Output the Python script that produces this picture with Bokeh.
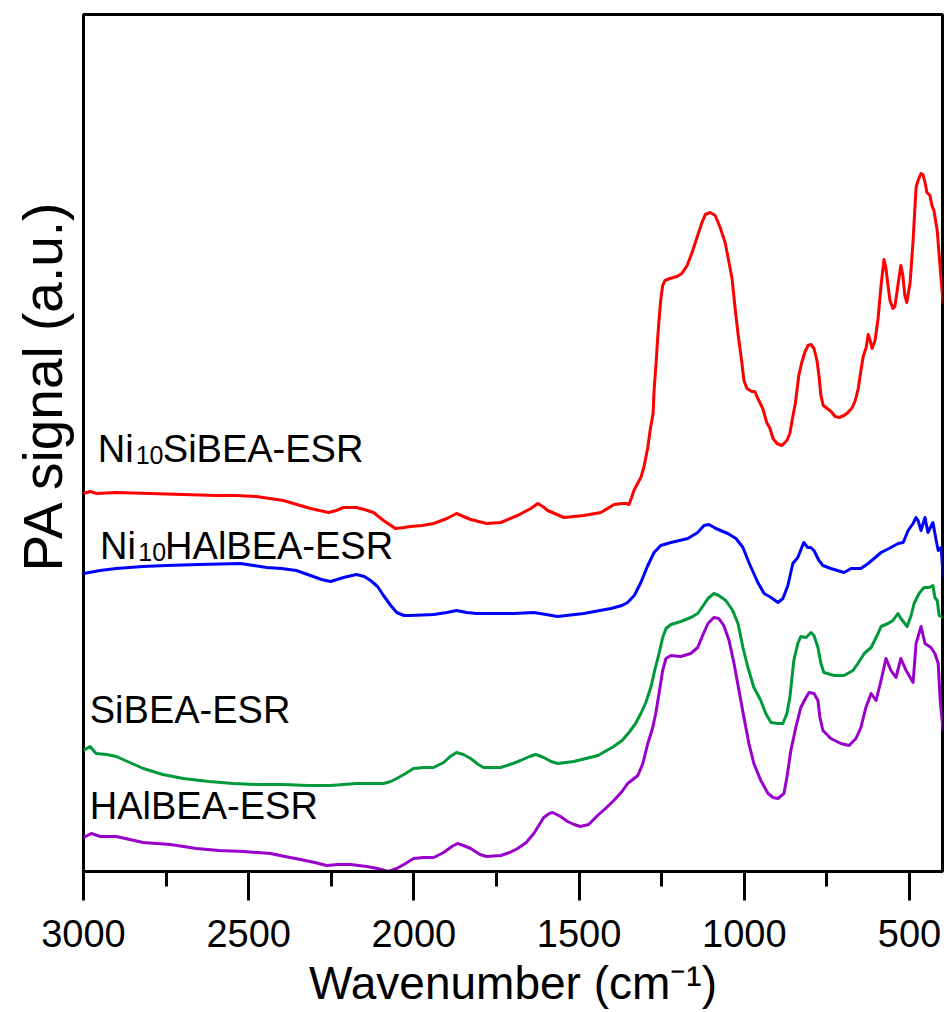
from bokeh.plotting import figure
from bokeh.models import Range1d, SingleIntervalTicker, Label, Title
from bokeh.embed import file_html
from bokeh.resources import INLINE

# ---------------- data: (wavenumber cm-1, PA signal a.u.) ----------------
red_points = [
    (3000, 378), (2980, 380), (2960, 378), (2901, 379), (2800, 378), (2698, 377), (2600, 376),
    (2537, 376), (2477, 375), (2395, 371), (2313, 363), (2258, 359), (2235, 361), (2213, 364),
    (2174, 364), (2150, 362), (2122, 359), (2092, 351), (2056, 343), (2030, 344), (2010, 345),
    (1975, 346), (1940, 348), (1900, 353), (1871, 358), (1850, 355), (1828, 352), (1780, 348),
    (1737, 349), (1686, 356), (1646, 363), (1625, 368), (1610, 365), (1595, 361), (1546, 354),
    (1486, 356), (1434, 359), (1394, 367), (1370, 368), (1358, 368), (1349, 367), (1341, 374),
    (1334, 381), (1323, 388), (1313, 394), (1304, 404), (1292, 424), (1285, 441), (1276, 458),
    (1273, 481), (1267, 508), (1262, 534), (1258, 551), (1253, 571), (1247, 586), (1240, 591),
    (1225, 593), (1204, 595), (1189, 598), (1173, 606), (1158, 619), (1143, 634), (1128, 649),
    (1118, 657), (1103, 659), (1088, 656), (1073, 644), (1058, 629), (1049, 614), (1037, 593),
    (1028, 564), (1019, 538), (1007, 508), (1001, 491), (992, 483), (977, 480), (968, 480),
    (959, 473), (944, 463), (932, 449), (922, 443), (913, 433), (901, 428), (886, 426),
    (871, 431), (862, 438), (853, 455), (845, 469), (835, 496), (826, 509), (817, 519),
    (807, 526), (798, 527), (789, 523), (780, 511), (774, 496), (768, 476), (761, 466),
    (749, 463), (737, 460), (725, 455), (713, 454), (698, 456), (686, 459), (673, 464),
    (664, 471), (655, 483), (646, 503), (640, 515), (631, 524), (625, 537), (619, 531),
    (613, 523), (604, 531), (595, 553), (586, 586), (577, 612), (571, 603), (565, 586),
    (559, 571), (550, 563), (544, 565), (535, 586), (526, 606), (520, 596), (514, 576),
    (508, 569), (498, 589), (489, 631), (480, 684), (474, 691), (465, 698), (459, 697),
    (453, 689), (447, 679), (438, 676), (432, 666), (426, 661), (416, 641), (410, 616),
    (404, 591), (398, 568)]

blue_points = [
    (3000, 298), (2950, 301), (2901, 303), (2820, 305), (2749, 306), (2650, 307), (2525, 308),
    (2446, 304), (2400, 303), (2356, 301), (2313, 296), (2280, 292), (2252, 290), (2213, 294),
    (2174, 297), (2150, 295), (2131, 291), (2110, 285), (2092, 276), (2070, 266), (2052, 259),
    (2030, 256), (2010, 256), (1940, 257), (1900, 259), (1871, 261), (1840, 259), (1810, 258),
    (1750, 258), (1698, 258), (1637, 259), (1600, 257), (1565, 255), (1486, 258), (1404, 263),
    (1370, 266), (1353, 269), (1333, 276), (1313, 289), (1292, 306), (1273, 319), (1253, 326),
    (1222, 329), (1171, 333), (1141, 339), (1122, 346), (1107, 347), (1086, 343), (1050, 338),
    (1025, 333), (1004, 324), (986, 309), (959, 289), (940, 278), (919, 274), (898, 269),
    (883, 273), (868, 286), (853, 308), (838, 314), (820, 329), (808, 324), (799, 324),
    (789, 321), (774, 311), (762, 306), (738, 303), (698, 299), (677, 303), (647, 303),
    (625, 308), (607, 313), (586, 319), (562, 323), (534, 328), (519, 329), (504, 341),
    (489, 348), (480, 354), (474, 351), (465, 341), (453, 354), (444, 339), (429, 349),
    (419, 331), (413, 321), (404, 324), (398, 294)]

green_points = [
    (3000, 121), (2980, 125), (2962, 118), (2930, 117), (2901, 115), (2860, 109), (2819, 103),
    (2760, 97), (2698, 93), (2620, 90), (2547, 88), (2470, 87), (2395, 87), (2320, 86),
    (2253, 86), (2174, 88), (2092, 88), (2070, 90), (2052, 93), (2025, 98), (2001, 103),
    (1970, 104), (1940, 104), (1910, 109), (1890, 115), (1871, 119), (1850, 117), (1828, 113),
    (1805, 107), (1789, 104), (1737, 104), (1700, 108), (1677, 111), (1650, 115), (1631, 117),
    (1607, 114), (1585, 110), (1565, 108), (1516, 110), (1443, 116), (1395, 125), (1370, 131),
    (1349, 139), (1329, 148), (1313, 158), (1298, 169), (1283, 184), (1271, 201), (1258, 218),
    (1247, 234), (1237, 243), (1222, 247), (1192, 250), (1162, 254), (1141, 258), (1126, 265),
    (1110, 273), (1092, 278), (1077, 276), (1056, 271), (1035, 261), (1019, 248), (1004, 224),
    (989, 204), (971, 184), (950, 171), (935, 158), (919, 149), (898, 148), (883, 148),
    (871, 158), (862, 174), (850, 211), (838, 228), (829, 235), (813, 234), (798, 239),
    (789, 236), (777, 224), (768, 208), (759, 199), (728, 196), (698, 196), (671, 201),
    (656, 208), (637, 218), (616, 224), (595, 238), (586, 245), (565, 248), (550, 251),
    (535, 258), (526, 253), (507, 245), (495, 256), (486, 268), (471, 278), (456, 284),
    (441, 284), (429, 286), (423, 274), (416, 271), (410, 256), (398, 254)]

purple_points = [
    (3000, 34), (2976, 38), (2949, 35), (2901, 35), (2860, 32), (2819, 29), (2737, 27),
    (2658, 23), (2590, 21), (2516, 20), (2434, 18), (2390, 15), (2343, 12), (2300, 9),
    (2264, 6), (2230, 7), (2192, 7), (2143, 5), (2110, 3), (2077, 0), (2052, 3), (2025, 8),
    (2001, 13), (1970, 14), (1940, 14), (1910, 19), (1885, 25), (1868, 28), (1850, 26),
    (1828, 23), (1800, 17), (1780, 15), (1737, 16), (1710, 19), (1686, 23), (1660, 29),
    (1637, 38), (1620, 47), (1607, 54), (1590, 58), (1580, 59), (1556, 55), (1535, 50),
    (1515, 47), (1496, 45), (1471, 47), (1444, 56), (1420, 63), (1395, 71), (1370, 80),
    (1353, 88), (1322, 96), (1307, 108), (1292, 128), (1277, 144), (1268, 158), (1258, 178),
    (1247, 201), (1237, 213), (1222, 216), (1192, 215), (1162, 218), (1141, 224), (1126, 236),
    (1110, 248), (1092, 254), (1077, 253), (1062, 246), (1046, 231), (1031, 208), (1016, 181),
    (1001, 154), (986, 128), (971, 108), (950, 91), (928, 78), (913, 74), (898, 73),
    (880, 78), (871, 94), (859, 121), (844, 144), (829, 164), (813, 174), (804, 179),
    (789, 178), (777, 171), (771, 154), (762, 141), (738, 133), (708, 128), (683, 126),
    (662, 133), (647, 144), (632, 164), (616, 178), (601, 171), (586, 191), (571, 213),
    (556, 201), (541, 194), (526, 213), (510, 201), (489, 189), (480, 228), (465, 245),
    (453, 228), (435, 224), (423, 218), (413, 208), (407, 171), (398, 141)]

series_names = ["Ni10SiBEA-ESR", "Ni10HAlBEA-ESR", "SiBEA-ESR", "HAlBEA-ESR"]
series_colors = ["#FF0000", "#0000FF", "#00993A", "#9900CC"]
x_title = "Wavenumber (cm\u207b\u00b9)"
y_title = "PA signal (a.u.)"

FONT = "Liberation Sans"

p = figure(width=946, height=1012, output_backend="svg", toolbar_location=None,
           x_range=Range1d(3000, 400), y_range=Range1d(0, 857),
           y_axis_location=None,
           min_border_left=83, min_border_right=4, min_border_top=14, min_border_bottom=141)
p.xgrid.grid_line_color = None
p.ygrid.grid_line_color = None
p.background_fill_color = "white"
p.border_fill_color = "white"
p.outline_line_color = "black"
p.outline_line_width = 3

xa = p.xaxis[0]
xa.ticker = SingleIntervalTicker(interval=500, num_minor_ticks=2)
xa.axis_line_width = 3
xa.axis_line_color = "black"
xa.major_tick_line_width = 3
xa.minor_tick_line_width = 3
xa.major_tick_line_color = "black"
xa.minor_tick_line_color = "black"
xa.major_tick_out = 29
xa.major_tick_in = 0
xa.minor_tick_out = 15
xa.minor_tick_in = 0
xa.major_label_text_font = FONT
xa.major_label_text_font_size = "38px"
xa.major_label_text_color = "black"
xa.major_label_standoff = 19
xa.axis_label = x_title
xa.axis_label_text_font = FONT
xa.axis_label_text_font_size = "46px"
xa.axis_label_text_font_style = "normal"
xa.axis_label_text_color = "black"
xa.axis_label_standoff = 7

p.add_layout(Title(text=y_title, align="left", offset=300, vertical_align="middle",
                   standoff=18, text_font=FONT, text_font_size="55px",
                   text_font_style="normal", text_color="black"), "left")

for pts, col in zip([red_points, blue_points, green_points, purple_points], series_colors):
    wn, pa = zip(*pts)
    p.line(list(wn), list(pa), line_color=col, line_width=3, line_join="round")


def lab(x, y, text, size):
    p.add_layout(Label(x=x, y=y, text=text, text_font=FONT, text_font_size=size,
                       text_color="black", text_baseline="alphabetic"))


# curve labels (subscript "10" drawn smaller and lower)
lab(2957, 423, "Ni", "38px")
lab(2842, 417, "10", "25px")
lab(2760, 423, "SiBEA-ESR", "38px")
lab(2950, 326, "Ni", "38px")
lab(2834, 320, "10", "25px")
lab(2753, 326, "HAlBEA-ESR", "38px")
lab(2981, 162, "SiBEA-ESR", "38px")
lab(2981, 66, "HAlBEA-ESR", "38px")

open("out.html", "w").write(file_html(p, INLINE))
